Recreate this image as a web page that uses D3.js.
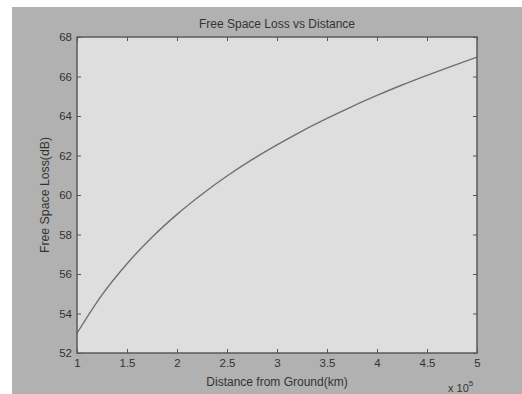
<!DOCTYPE html>
<html>
  <head>
    <meta charset="utf-8">
    <title>Free Space Loss vs Distance</title>
    <script src="https://d3js.org/d3.v7.min.js"></script>
    <style>
      body { margin: 0; background: #fff; }
      svg text { font-family: "Liberation Sans", Arial, sans-serif; fill: #333; }
    </style>
  </head>
  <body>
    <script>
      // distance (x 10^5 km) and loss (dB)
      const distance = [1, 1.25, 1.5, 1.75, 2, 2.25, 2.5, 2.75, 3, 3.25, 3.5, 3.75, 4, 4.25, 4.5, 4.75, 5];
      const loss = [53.0, 54.94, 56.52, 57.86, 59.02, 60.04, 60.96, 61.79, 62.54, 63.24, 63.88, 64.48, 65.04, 65.57, 66.06, 66.53, 66.98];
      const xTicks = [1, 1.5, 2, 2.5, 3, 3.5, 4, 4.5, 5];
      const yTicks = [52, 54, 56, 58, 60, 62, 64, 66, 68];

      const width = 522;
      const height = 394;
      const plot = {left: 77, top: 37, right: 477, bottom: 353};
      const tick = 4;

      const svg = d3.select("body")
        .append("svg")
          .attr("width", width)
          .attr("height", height);

      // figure background (white strip on top and left)
      svg.append("rect")
        .attr("x", 12).attr("y", 7)
        .attr("width", width - 12).attr("height", height - 7)
        .attr("fill", "#b1b1b1");

      const xScale = d3.scaleLinear().domain([1, 5]).range([plot.left, plot.right]);
      const yScale = d3.scaleLinear().domain([52, 68]).range([plot.bottom, plot.top]);

      svg.append("rect")
        .attr("x", plot.left).attr("y", plot.top)
        .attr("width", plot.right - plot.left).attr("height", plot.bottom - plot.top)
        .attr("fill", "#dedede");

      const line = d3.line()
        .x(function(d, i) { return xScale(distance[i]); })
        .y(function(d) { return yScale(d); })
        .curve(d3.curveMonotoneX);

      svg.append("path")
        .attr("d", line(loss))
        .attr("fill", "none")
        .attr("stroke", "#707070")
        .attr("stroke-width", 1.4);

      // axes, ticks pointing inward like matlab
      function styleAxis(g) {
        g.select(".domain").remove();
        g.selectAll(".tick line").attr("stroke", "#555");
        g.selectAll(".tick text").attr("font-size", 11.5).attr("fill", "#333");
      }

      svg.append("g")
        .attr("transform", "translate(0," + plot.bottom + ")")
        .call(d3.axisBottom(xScale).tickValues(xTicks).tickSize(-tick).tickPadding(6).tickFormat(d3.format("")))
        .call(styleAxis);

      svg.append("g")
        .attr("transform", "translate(0," + plot.top + ")")
        .call(d3.axisTop(xScale).tickValues(xTicks).tickSize(-tick).tickFormat(""))
        .call(styleAxis);

      svg.append("g")
        .attr("transform", "translate(" + plot.left + ",0)")
        .call(d3.axisLeft(yScale).tickValues(yTicks).tickSize(-tick).tickPadding(5))
        .call(styleAxis);

      svg.append("g")
        .attr("transform", "translate(" + plot.right + ",0)")
        .call(d3.axisRight(yScale).tickValues(yTicks).tickSize(-tick).tickFormat(""))
        .call(styleAxis);

      svg.append("rect")
        .attr("x", plot.left).attr("y", plot.top)
        .attr("width", plot.right - plot.left).attr("height", plot.bottom - plot.top)
        .attr("fill", "none")
        .attr("stroke", "#5a5a5a")
        .attr("stroke-width", 1.5);

      svg.append("text")
        .attr("x", (plot.left + plot.right) / 2)
        .attr("y", 28)
        .attr("text-anchor", "middle")
        .attr("font-size", 12)
        .text("Free Space Loss vs Distance");

      svg.append("text")
        .attr("x", (plot.left + plot.right) / 2)
        .attr("y", 386)
        .attr("text-anchor", "middle")
        .attr("font-size", 12)
        .text("Distance from Ground(km)");

      svg.append("text")
        .attr("transform", "translate(49," + ((plot.top + plot.bottom) / 2) + ") rotate(-90)")
        .attr("text-anchor", "middle")
        .attr("font-size", 12.3)
        .text("Free Space Loss(dB)");

      const mult = svg.append("text")
        .attr("x", 448)
        .attr("y", 392)
        .attr("font-size", 11);
      mult.append("tspan").text("x 10");
      mult.append("tspan").attr("dy", -6).attr("font-size", 8).text("5");
    </script>
  </body>
</html>
